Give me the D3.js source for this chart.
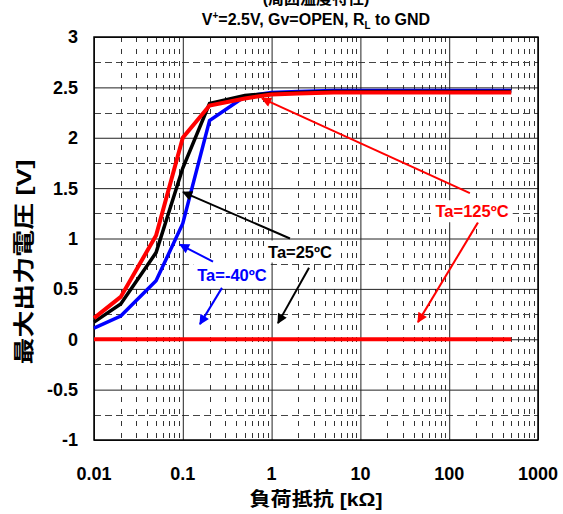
<!DOCTYPE html>
<html>
<head>
<meta charset="utf-8">
<script src="https://cdn.jsdelivr.net/npm/d3@7"></script>
<style>
  body { margin: 0; background: #fff; }
  svg { display: block; }
</style>
</head>
<body>
<div id="chart"></div>
<script>
// load resistance [kΩ] and max output voltage [V]
const resistances = [0.01, 0.02, 0.05, 0.1, 0.2, 0.5, 1, 2, 5, 10, 20, 50, 100, 200, 500];
const vCold = [0.11, 0.23, 0.58, 1.15, 2.17, 2.41, 2.45, 2.46, 2.47, 2.47, 2.47, 2.47, 2.47, 2.47, 2.47];
const vRoom = [0.17, 0.35, 0.86, 1.70, 2.34, 2.42, 2.44, 2.45, 2.46, 2.46, 2.46, 2.46, 2.46, 2.46, 2.46];
const vHot  = [0.21, 0.42, 1.03, 2.00, 2.32, 2.39, 2.43, 2.44, 2.45, 2.45, 2.45, 2.45, 2.45, 2.45, 2.45];
const vHotLow = [0, 0, 0, 0, 0, 0, 0, 0, 0, 0, 0, 0, 0, 0, 0];

const yTicks = [3, 2.5, 2, 1.5, 1, 0.5, 0, -0.5, -1];
const xTicks = [0.01, 0.1, 1, 10, 100, 1000];
const xTickLabels = ["0.01", "0.1", "1", "10", "100", "1000"];

const series = [
  { name: "Ta=-40ºC", color: "#0000ff", values: vCold },
  { name: "Ta=25ºC", color: "#000000", values: vRoom },
  { name: "Ta=125ºC", color: "#ff0000", values: vHot },
  { name: "Ta=125ºC low", color: "#ff0000", values: vHotLow }
];

// label anchors and arrow ends, in data units (kΩ, V)
const notes = [
  { text: "Ta=125ºC", color: "#ff0000", at: [181, 1.27],
    arrows: [[[171, 1.45], [0.78, 2.39]], [[211, 1.16], [44.5, 0.17]]] },
  { text: "Ta=25ºC", color: "#000000", at: [2.09, 0.87],
    arrows: [[[1.61, 1.0], [0.1005, 1.46]], [[2.64, 0.71], [1.18, 0.16]]] },
  { text: "Ta=-40ºC", color: "#0000ff", at: [0.358, 0.64],
    arrows: [[[0.219, 0.77], [0.093, 0.94]], [[0.276, 0.51], [0.156, 0.15]]] }
];

const width = 563;
const height = 514;
const margin = { top: 37, right: 25, bottom: 74, left: 94 };
const latin = "'Liberation Sans', Arial, Helvetica, sans-serif";
const cjk = "'Liberation Sans', 'Noto Sans CJK JP', sans-serif";

const svg = d3.select("#chart")
  .append("svg")
  .attr("width", width)
  .attr("height", height);

const innerW = width - margin.left - margin.right;
const innerH = height - margin.top - margin.bottom;

const x = d3.scaleLog()
  .domain([0.01, 1000])
  .range([0, innerW]);

const y = d3.scaleLinear()
  .domain([-1, 3])
  .range([innerH, 0]);

const chart = svg.append("g")
  .attr("transform", `translate(${margin.left},${margin.top})`);

// minor vertical grid (2..9 of each decade), dashed
const minorX = [];
for (let d = 0.01; d < 1000; d *= 10) {
  for (let k = 2; k <= 9; k++) minorX.push(d * k);
}
chart.append("g")
  .selectAll("line")
  .data(minorX)
  .join("line")
  .attr("x1", d => Math.round(x(d)) + 0.5)
  .attr("x2", d => Math.round(x(d)) + 0.5)
  .attr("y1", 0)
  .attr("y2", innerH)
  .attr("stroke", "#333")
  .attr("stroke-width", 1)
  .attr("stroke-dasharray", "5,7");

// horizontal dashed grid at quarter volts
const quarterY = d3.range(-0.75, 3, 0.5);
chart.append("g")
  .selectAll("line")
  .data(quarterY)
  .join("line")
  .attr("x1", 0)
  .attr("x2", innerW)
  .attr("y1", d => Math.round(y(d)) + 0.5)
  .attr("y2", d => Math.round(y(d)) + 0.5)
  .attr("stroke", "#444")
  .attr("stroke-width", 1)
  .attr("stroke-dasharray", "7,4");

// solid major grid
chart.append("g")
  .call(d3.axisLeft(y)
    .tickValues(yTicks)
    .tickSize(-innerW)
    .tickFormat(""))
  .call(g => g.selectAll(".tick line").attr("stroke", "#222"))
  .call(g => g.select(".domain").remove());

chart.append("g")
  .attr("transform", `translate(0,${innerH})`)
  .call(d3.axisBottom(x)
    .tickValues(xTicks)
    .tickSize(innerH)
    .tickFormat(""))
  .call(g => g.selectAll(".tick line")
    .attr("stroke", "#222")
    .attr("transform", `translate(0,${-innerH})`))
  .call(g => g.select(".domain").remove());

// frame
chart.append("rect")
  .attr("x", 0)
  .attr("y", 0)
  .attr("width", innerW)
  .attr("height", innerH)
  .attr("fill", "none")
  .attr("stroke", "#000")
  .attr("stroke-width", 1.5);

// y tick labels
chart.append("g")
  .selectAll("text")
  .data(yTicks)
  .join("text")
  .attr("x", -16)
  .attr("y", d => y(d))
  .attr("dy", "0.36em")
  .attr("text-anchor", "end")
  .style("font-family", latin)
  .style("font-weight", "bold")
  .style("font-size", "18px")
  .text(d => d);

// x tick labels
chart.append("g")
  .selectAll("text")
  .data(xTicks)
  .join("text")
  .attr("x", d => x(d))
  .attr("y", innerH + 40)
  .attr("text-anchor", "middle")
  .style("font-family", latin)
  .style("font-weight", "bold")
  .style("font-size", "18px")
  .text((d, i) => xTickLabels[i]);

// curves
const line = d3.line()
  .x((d, i) => x(resistances[i]))
  .y(d => y(d));

chart.append("g")
  .selectAll("path")
  .data(series)
  .join("path")
  .attr("d", d => line(d.values))
  .attr("fill", "none")
  .attr("stroke", d => d.color)
  .attr("stroke-width", d => d.color === "#ff0000" ? 4 : 3.5)
  .attr("stroke-linejoin", "miter");

// arrowheads
const defs = svg.append("defs");
notes.forEach((n, i) => {
  defs.append("marker")
    .attr("id", "arrow" + i)
    .attr("viewBox", "0 0 10 10")
    .attr("refX", 9)
    .attr("refY", 5)
    .attr("markerWidth", 6)
    .attr("markerHeight", 5)
    .attr("markerUnits", "strokeWidth")
    .attr("orient", "auto")
    .append("path")
    .attr("d", "M0,0L10,5L0,10Z")
    .attr("fill", n.color);
});

const noteGroups = chart.append("g")
  .selectAll("g")
  .data(notes)
  .join("g");

noteGroups.each(function(n, i) {
  const g = d3.select(this);
  n.arrows.forEach(a => {
    g.append("line")
      .attr("x1", x(a[0][0]))
      .attr("y1", y(a[0][1]))
      .attr("x2", x(a[1][0]))
      .attr("y2", y(a[1][1]))
      .attr("stroke", n.color)
      .attr("stroke-width", 2)
      .attr("marker-end", `url(#arrow${i})`);
  });
  const bg = g.append("rect").attr("fill", "#fff");
  const t = g.append("text")
    .attr("x", x(n.at[0]))
    .attr("y", y(n.at[1]))
    .attr("dy", "0.36em")
    .attr("text-anchor", "middle")
    .attr("fill", n.color)
    .style("font-family", latin)
    .style("font-weight", "bold")
    .style("font-size", "16.5px")
    .text(n.text);
  const b = t.node().getBBox();
  bg.attr("x", b.x - 4).attr("y", b.y - 2)
    .attr("width", b.width + 8).attr("height", b.height + 4);
});

// titles
const cx = margin.left + innerW / 2;
svg.append("text")
  .attr("x", cx)
  .attr("y", 4)
  .attr("text-anchor", "middle")
  .style("font-family", cjk)
  .style("font-weight", "bold")
  .style("font-size", "16px")
  .text("(周囲温度特性)");

const sub = svg.append("text")
  .attr("x", cx)
  .attr("y", 25)
  .attr("text-anchor", "middle")
  .style("font-family", latin)
  .style("font-weight", "bold")
  .style("font-size", "16px");
sub.append("tspan").text("V");
sub.append("tspan").attr("dy", -6).style("font-size", "10px").text("+");
sub.append("tspan").attr("dy", 6).text("=2.5V, Gv=OPEN, R");
sub.append("tspan").attr("dy", 4).style("font-size", "10px").text("L");
sub.append("tspan").attr("dy", -4).text(" to GND");

svg.append("text")
  .attr("x", cx)
  .attr("y", 506)
  .attr("text-anchor", "middle")
  .attr("textLength", 133)
  .attr("lengthAdjust", "spacingAndGlyphs")
  .style("font-family", cjk)
  .style("font-weight", "bold")
  .style("font-size", "19px")
  .text("負荷抵抗 [kΩ]");

svg.append("text")
  .attr("transform", "rotate(-90)")
  .attr("x", -262)
  .attr("y", 31)
  .attr("text-anchor", "middle")
  .attr("textLength", 205)
  .attr("lengthAdjust", "spacingAndGlyphs")
  .style("font-family", cjk)
  .style("font-weight", "bold")
  .style("font-size", "21px")
  .text("最大出力電圧 [V]");
</script>
</body>
</html>
